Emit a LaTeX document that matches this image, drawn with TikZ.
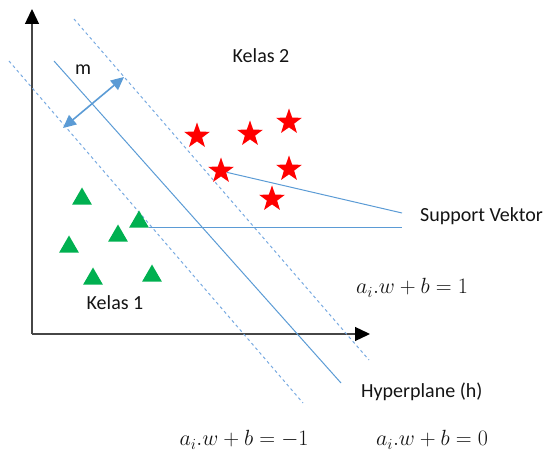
\documentclass[tikz,border=0pt]{standalone}
\usepackage{fix-cm}
\usepackage{fontspec}
\setmainfont{Carlito}
\usetikzlibrary{arrows.meta,shapes.geometric}
\definecolor{txt}{RGB}{20,20,20}
\definecolor{ax}{RGB}{70,70,70}
\definecolor{ln}{RGB}{91,155,213}
\definecolor{lnd}{RGB}{120,170,225}
\definecolor{grn}{RGB}{0,176,80}
\tikzset{
  every picture/.style={x=1pt, y=-1pt, line cap=butt, line join=round},
  every node/.style={font=\fontsize{20}{24}\selectfont, text=txt},
  % Achsen
  axis/.style={ax, line width=1.3pt, -{Triangle[length=15pt,width=14pt,black]}},
  % Trennlinien
  hyp/.style={ln, line width=1pt},
  marg/.style={lnd, line width=1pt, dash pattern=on 3pt off 3pt},
  gap/.style={ln, line width=1.6pt, {Triangle[length=13pt,width=12pt]}-{Triangle[length=13pt,width=12pt]}},
  % Datenpunkte
  kls2/.style={star, star points=5, star point ratio=2.5, fill=red, draw=none,
    inner sep=0pt, minimum size=27pt},
  kls1/.style={regular polygon, regular polygon sides=3, fill=grn, draw=none,
    inner sep=0pt, minimum size=23pt},
  lbl/.style={anchor=west, inner sep=0pt},
  eq/.style={font=\fontsize{22}{26}\selectfont},
}
\begin{document}
\begin{tikzpicture}
  \useasboundingbox (0,0) rectangle (546,454);
  % Achsen
  \coordinate (O) at (32,334);
  \coordinate (ytip) at (32,9);
  \coordinate (xtip) at (370,334);
  \draw[axis] (O) -- (ytip);
  \draw[axis] (O) -- (xtip);
  % Hyperplane und Margin
  \draw[hyp] (54,61) -- (341,383);
  \draw[marg] (74,19) -- (369,360);
  \draw[marg] (9,61) -- (303,403);
  \coordinate (m1) at (63,128);
  \coordinate (m2) at (124,77);
  \draw[gap] (m1) -- (m2);
  \node (m) at (83,70) {m};
  % Kelas 2
  \foreach \n/\x/\y in {s1/197/136, s2/250/134, s3/289/122, s4/221/171, s5/289/169, s6/272/199}
    \node[kls2] (\n) at (\x,\y) {};
  % Kelas 1
  \foreach \n/\x/\y in {t1/82/199, t2/139/222, t3/118/236, t4/69/247, t5/93/279, t6/152/276}
    \node[kls1] (\n) at (\x,\y) {};
  % Support Vektor
  \node[lbl] (sv) at (420,216) {Support Vektor};
  \coordinate (sv1) at (402,213);
  \coordinate (sv2) at (402,229);
  \draw[hyp] (s4) -- (sv1);
  \draw[hyp] (t2.corner 3) -- (t2.corner 3 -| sv2);
  % Beschriftung
  \node (k2) at (261,56) {Kelas 2};
  \node (k1) at (115,303) {Kelas 1};
  \node[eq] (e1) at (412,288) {$a_i.w+b=1$};
  \node[lbl] (h) at (361,392) {Hyperplane (h)};
  \node[eq] (em) at (244,440) {$a_i.w+b=-1$};
  \node[eq] (e0) at (432,440) {$a_i.w+b=0$};
\end{tikzpicture}
\end{document}
